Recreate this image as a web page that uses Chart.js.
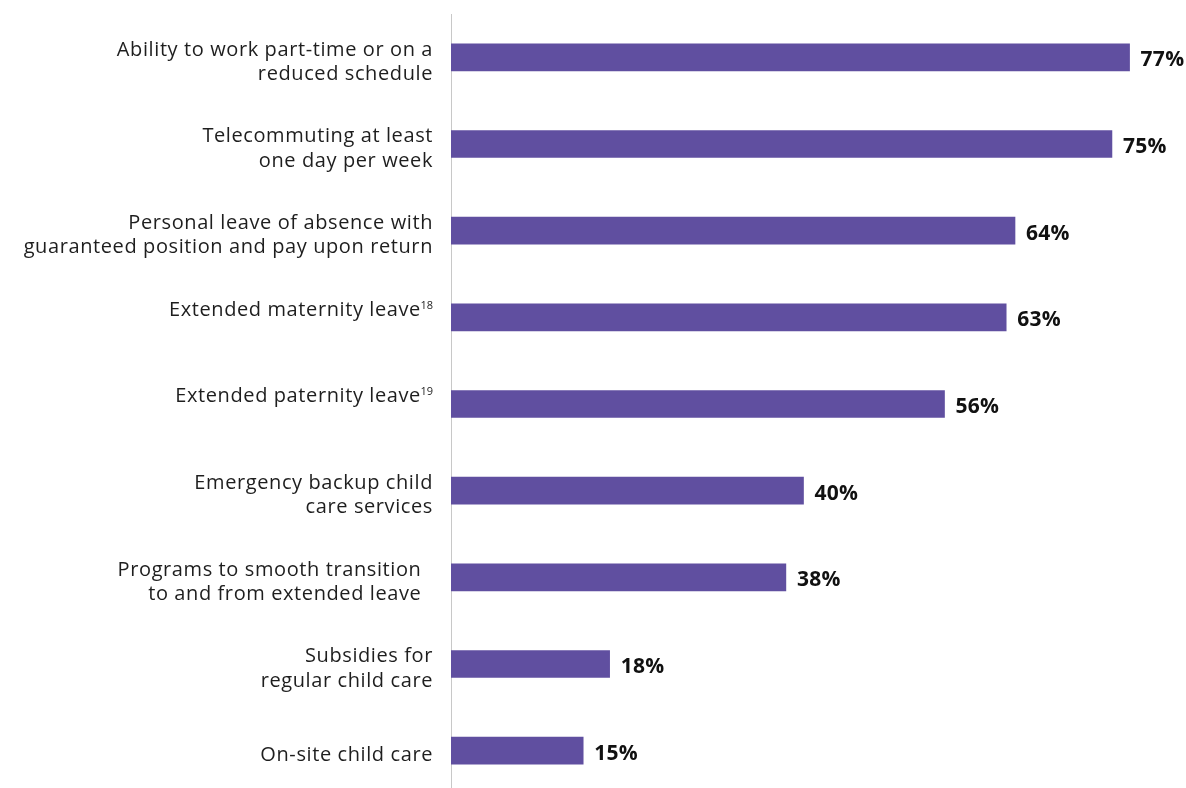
<!DOCTYPE html>
<html>
<head>
<meta charset="utf-8">
<script src="https://cdn.jsdelivr.net/npm/chart.js@4/dist/chart.umd.min.js"></script>
<style>
  html, body { margin: 0; padding: 0; background: #fff; overflow: hidden; }
  #wrap { position: relative; width: 1186px; height: 794px; }
</style>
</head>
<body>
<div id="wrap"><canvas id="grafico"></canvas></div>
<script>
// label lines (an empty line keeps the footnoted ones raised like in the source)
const categorias = [
  ["Ability to work part-time or on a", "reduced schedule"],
  ["Telecommuting at least", "one day per week"],
  ["Personal leave of absence with", "guaranteed position and pay upon return"],
  ["Extended maternity leave", ""],
  ["Extended paternity leave", ""],
  ["Emergency backup child", "care services"],
  ["Programs to smooth transition  ", "to and from extended leave  "],
  ["Subsidies for", "regular child care"],
  ["On-site child care"]
];
const notas = ["", "", "", "18", "19", "", "", "", ""];
const valores = [77, 75, 64, 63, 56, 40, 38, 18, 15];

const fuente = "'Open Sans', sans-serif";

const etiquetasPlugin = {
  id: "etiquetas",
  afterDatasetsDraw(chart) {
    const ctx = chart.ctx;
    const yScale = chart.scales.y;
    const area = chart.chartArea;
    const derecha = area.left - 18;
    const alto = 24.5;

    ctx.save();
    ctx.fillStyle = "#1e1e1e";
    ctx.textBaseline = "alphabetic";
    ctx.textAlign = "right";
    categorias.forEach((lineas, i) => {
      const yc = yScale.getPixelForValue(i);
      const y0 = yc + 10.5 - (lineas.length - 1) * alto / 2;
      lineas.forEach((txt, j) => {
        if (!txt) return;
        const y = y0 + j * alto;
        let x = derecha;
        if (j === 0 && notas[i]) {
          ctx.font = "11px " + fuente;
          ctx.letterSpacing = "0px";
          ctx.fillText(notas[i], x, y - 7);
          x -= ctx.measureText(notas[i]).width - 0.5;
        }
        ctx.font = "20px " + fuente;
        ctx.letterSpacing = "0.6px";
        ctx.fillText(txt, x, y);
      });
    });

    // value labels at bar ends
    const meta = chart.getDatasetMeta(0);
    ctx.font = "bold 21px " + fuente;
    ctx.letterSpacing = "0.3px";
    ctx.fillStyle = "#111";
    ctx.textAlign = "left";
    meta.data.forEach((bar, i) => {
      ctx.fillText(valores[i] + "%", bar.x + 11, bar.y + 9);
    });
    ctx.restore();
  }
};

const ctx = document.querySelector("#grafico");

const grafico = new Chart(ctx, {
  type: "bar",
  data: {
    labels: categorias.map((l) => l.join(" ").trim()),
    datasets: [
      {
        data: valores,
        backgroundColor: "#604fa0",
        barThickness: 27
      }
    ]
  },
  options: {
    indexAxis: "y",
    responsive: true,
    maintainAspectRatio: false,
    animation: false,
    layout: { padding: { left: 443, right: 30, top: 14, bottom: 0 } },
    plugins: {
      legend: { display: false },
      tooltip: { enabled: false }
    },
    scales: {
      x: { display: false, min: 0, max: 80 },
      y: {
        ticks: { display: false },
        grid: { display: false },
        border: { display: true, color: "#c8c8c8", width: 1 }
      }
    }
  },
  plugins: [etiquetasPlugin]
});
</script>
</body>
</html>
